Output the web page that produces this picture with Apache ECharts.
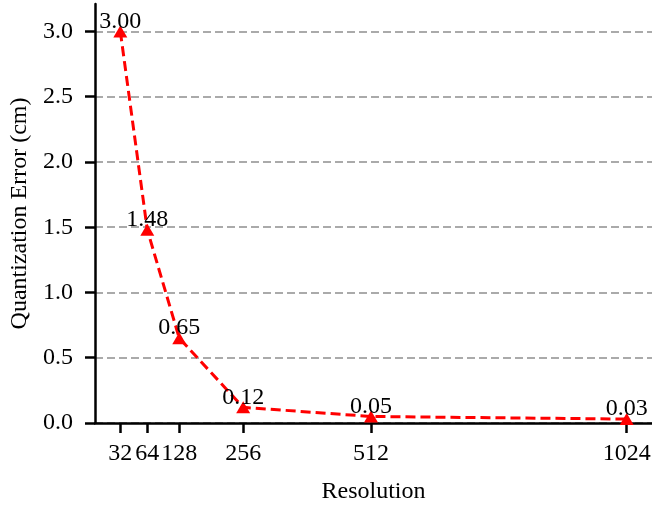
<!DOCTYPE html>
<html>
<head>
<meta charset="utf-8">
<script src="https://cdn.jsdelivr.net/npm/echarts@6/dist/echarts.min.js"></script>
<style>
  html, body { margin: 0; padding: 0; background: #fff; }
  #chart { width: 652px; height: 506px; }
</style>
</head>
<body>
<div id="chart"></div>
<script>
// x positions as they sit on the axis (the 32 point is drawn further left in the original)
const xPositions = [10, 64, 128, 256, 512, 1024];
const tickLabels = ['32', '64', '128', '256', '512', '1024'];
const errors = [3.00, 1.48, 0.65, 0.12, 0.05, 0.03];
const yTicks = [0, 0.5, 1.0, 1.5, 2.0, 2.5, 3.0];

const font = 'Liberation Serif, Times New Roman, serif';
const chart = echarts.init(document.getElementById('chart'));

chart.setOption({
  animation: false,
  grid: { left: 95, right: 0, top: 4, bottom: 83, outerBoundsMode: 'none' },
  xAxis: {
    type: 'value',
    min: -40.7,
    max: 1074.7,
    name: 'Resolution',
    nameLocation: 'middle',
    nameGap: 57,
    nameTextStyle: { fontFamily: font, fontSize: 24, color: '#000' },
    axisLine: { lineStyle: { color: '#000', width: 2.5 } },
    axisTick: { customValues: xPositions, length: 10, lineStyle: { color: '#000', width: 2.5 } },
    axisLabel: {
      customValues: xPositions,
      margin: 19,
      fontFamily: font, fontSize: 24, color: '#000',
      formatter: v => tickLabels[xPositions.indexOf(v)]
    },
    splitLine: { show: false }
  },
  yAxis: {
    type: 'value',
    min: 0,
    max: 3.21,
    name: 'Quantization Error (cm)',
    nameLocation: 'middle',
    nameGap: 58,
    nameTextStyle: { fontFamily: font, fontSize: 24, color: '#000' },
    axisLine: { show: true, onZero: false, lineStyle: { color: '#000', width: 2.5 } },
    axisTick: { show: true, customValues: yTicks, length: 10, lineStyle: { color: '#000', width: 2.5 } },
    axisLabel: {
      customValues: yTicks,
      margin: 22,
      fontFamily: font, fontSize: 24, color: '#000',
      formatter: v => v.toFixed(1)
    },
    splitLine: { show: true, lineStyle: { color: '#aaaaaa', width: 1.8, type: [8, 4] } }
  },
  series: [{
    type: 'line',
    data: xPositions.map((x, i) => [x, errors[i]]),
    symbol: 'triangle',
    symbolSize: [14, 12],
    itemStyle: { color: '#ff0000' },
    lineStyle: { color: '#ff0000', width: 3, type: [10, 5] },
    label: {
      show: true,
      position: 'top',
      distance: -8,
      fontFamily: font, fontSize: 24, color: '#000',
      formatter: p => errors[p.dataIndex].toFixed(2)
    }
  }]
});
</script>
</body>
</html>
